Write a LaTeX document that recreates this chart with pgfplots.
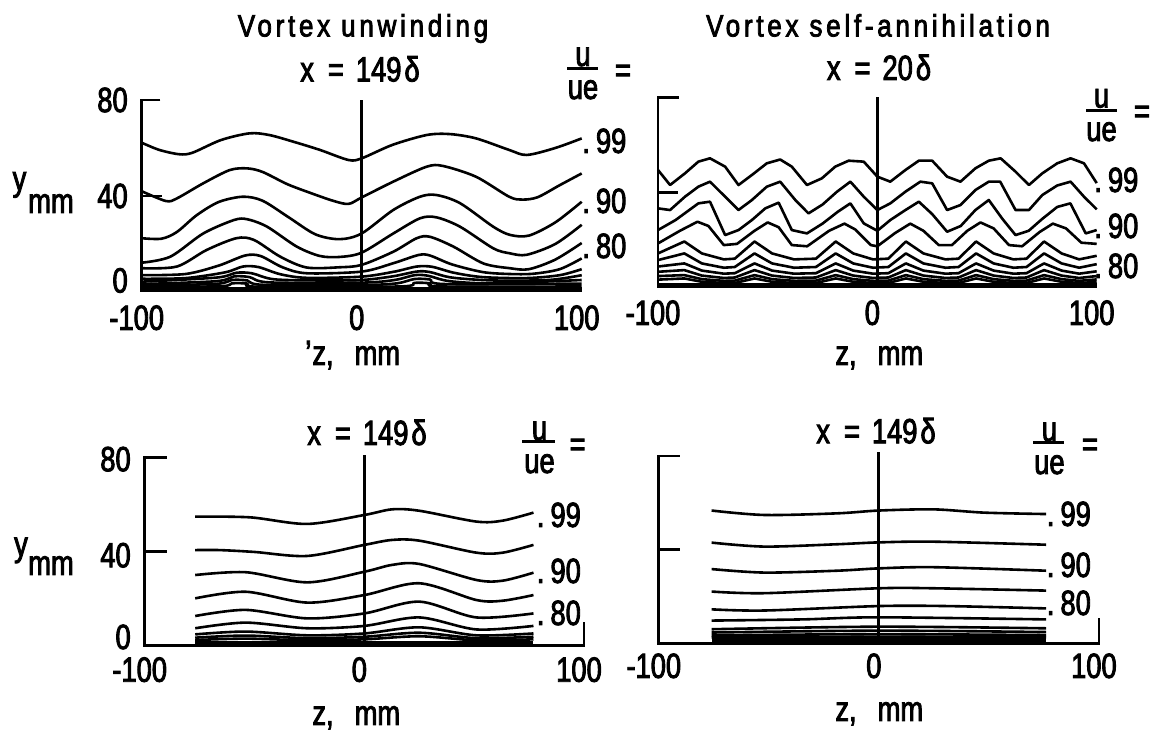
\documentclass[border=0pt]{standalone}
\usepackage{fontspec}
\setmainfont{Liberation Sans}
\newfontfamily\numfontfam{Liberation Sans}[FakeStretch=0.78,FakeBold=2.5]
\newfontfamily\titfontfam{Liberation Sans}[FakeStretch=0.84,LetterSpace=12,FakeBold=2.5]
\newcommand\valfont{\numfontfam\fontsize{17.5pt}{20pt}\selectfont}
\newcommand\titfont{\titfontfam\fontsize{15.5pt}{18pt}\selectfont}
\usepackage{pgfplots}
\pgfplotsset{compat=1.18}
\pgfplotsset{
  panel/.style={
    scale only axis, clip=false,
    xmin=-100, xmax=100, ymin=0, ymax=80,
    axis line style={draw=none},
    major tick length=0pt, tick style={draw=none},
    xtick={-100,0,100}, xticklabels={-100,0,100},
    xticklabel style={font=\valfont, anchor=north, inner sep=0pt, xshift=-2.5pt},
    yticklabel style={font=\valfont, anchor=east, inner sep=0pt, xshift=-6.8pt},
  },
  c/.style={black, line width=1.3pt, smooth, tension=0.5},
  zz/.style={black, line width=1.3pt, line join=round},
  ax/.style={black, line width=1.4pt, line join=miter},
  band/.style={black, line width=2.4pt},
}
\begin{document}
\begin{tikzpicture}
\useasboundingbox (0pt,0pt) rectangle (577.5pt,365.5pt);

% ---------------- Panel 1: Vortex unwinding, x = 149 delta
\begin{axis}[panel, at={(70.85pt,219.5pt)}, anchor=south west,
  width=220pt, height=96pt,
  ytick={4.8,40,80}, yticklabels={0,40,80},
  xticklabel style={yshift=-6.5pt}]
\addplot[ax] coordinates {(-91.5,80) (-100,80) (-100,0)};
\addplot[ax] coordinates {(-100,40) (-91,40)};
\addplot[ax] coordinates {(0,0) (0,80)};
\addplot[band] coordinates {(-100,1.0) (100,1.0)};
\addplot[c] coordinates {(-100,62.2) (-92,59.2) (-83,57.4) (-77,58) (-64,63.3) (-51,66.1) (-42,65.4) (-31,62.6) (-19,59.2) (-6,55) (0,55.7) (14,61.3) (29.5,65.4) (40,65.8) (52,64) (67,59.2) (75,57.1) (88,60) (100,64)};
\addplot[c] coordinates {(-100,42) (-89,37.9) (-84,39) (-72,45.3) (-60,50.8) (-52,51.5) (-45,50) (-34,45) (-24,41.5) (-13,38) (-6,36.7) (0,39.4) (14.4,46) (29.5,52.2) (37,52.5) (52,48) (67,39.7) (73,38.5) (80,39.5) (90,44.5) (100,49.4)};
\addplot[c] coordinates {(-100,22.4) (-91,22.2) (-84,25) (-75,32) (-65,37.5) (-54,39.7) (-45,38) (-33,31) (-21,24) (-10,22) (0,24.4) (14.4,34.2) (26.5,39.7) (34,40.4) (44.7,37) (59.8,27.2) (67.4,23.8) (76,23.5) (88,29) (100,37.6)};
\addplot[c] coordinates {(-100,12.2) (-87,14.7) (-72,24.4) (-58,30) (-52,30.3) (-43,27.2) (-29.5,18.9) (-19,15) (-10,14.6) (0,16.4) (14.4,24.4) (26.5,30.7) (34,31.1) (44.7,27.2) (59.8,18.2) (67.4,16.1) (75,15.5) (88,20) (100,28)};
\addplot[c] coordinates {(-100,9.9) (-84,10.6) (-70.5,17.5) (-57,22.4) (-49,21.7) (-37,14.7) (-25,10.2) (-10,10.3) (0,11.3) (14.4,16.8) (25,22.4) (31,23) (41.7,18.9) (55.3,11.9) (67.4,9.9) (76,9.5) (88,13.5) (100,20.4)};
\addplot[c] coordinates {(-100,7) (-80,7.5) (-65,11) (-53,15.2) (-46,15) (-36,10.3) (-25,7.8) (0,8.5) (14.4,12) (25.8,15.4) (31,15.2) (41,11.5) (55,8.3) (67,7.5) (78,7.6) (90,9.5) (100,14)};
\addplot[c] coordinates {(-100,5.5) (-80,5.8) (-62,8.2) (-54,10.6) (-47,10.4) (-37,7.4) (-25,5.9) (0,6.4) (15,8.5) (25,10.6) (32,10.5) (42,8) (55,6.2) (75,5.8) (90,7) (100,9.5)};
\addplot[c] coordinates {(-100,4.3) (-66,6) (-57,8) (-50,7.8) (-40,5.3) (-20,4.8) (0,5) (14,6.5) (25,8.5) (31,8.3) (41,6) (60,4.8) (85,5) (100,7)};
\addplot[c] coordinates {(-100,3.3) (-66,4.5) (-58,6.5) (-51,6.2) (-42,4) (0,3.9) (15,5) (24,7) (30,6.8) (40,4.5) (60,3.6) (100,5)};
\addplot[c] coordinates {(-100,2.6) (-66,3.4) (-59,5) (-52,4.8) (-45,3) (0,2.9) (16,3.6) (24,5.4) (31,5.2) (38,3.3) (100,3.5)};
\addplot[c] coordinates {(-100,2) (-64,2.4) (-59,3.6) (-52,3.5) (-47,2.2) (17,2.3) (24,3.8) (31,3.6) (36,2.3) (100,2.3)};
\end{axis}

% ---------------- Panel 2: Vortex self-annihilation, x = 20 delta
\begin{axis}[panel, at={(329pt,221.5pt)}, anchor=south west,
  width=219.35pt, height=95.35pt,
  ytick=\empty,
  xticklabel style={yshift=-6pt}]
\addplot[ax] coordinates {(-90.5,80) (-100,80) (-100,0)};
\addplot[ax] coordinates {(-100,40) (-91,40)};
\addplot[ax] coordinates {(0,0) (0,80)};
\addplot[band] coordinates {(-100,1.0) (100,1.0)};
\addplot[zz] coordinates {(-100,49.5) (-94.5,43.2) (-87.7,48.1) (-81.6,53) (-76.3,54.4) (-69.4,50.9) (-63.3,43.2) (-57.2,47.4) (-50.4,52.3) (-44.3,53.9) (-39,50.9) (-32.1,43.2) (-25.3,46) (-19.2,50.9) (-13.1,53.4) (-6.2,53) (0,46.7) (5.9,44.6) (12.8,49.5) (18.9,53.4) (25,53.4) (31.8,46.7) (37.9,44.6) (44.7,50.2) (50.8,53.4) (56.2,54.4) (63,48.8) (69.1,43.2) (75.2,48.1) (82,52.3) (88.1,54.4) (94.2,52.3) (100,44)};
\addplot[zz] coordinates {(-100,33.4) (-94.5,32.7) (-87.7,38.3) (-81.6,42.5) (-76.3,44.6) (-69.4,38.3) (-63.3,32.7) (-57.2,36.9) (-50.4,42.5) (-44.3,44.6) (-37.4,36.9) (-31.4,31.3) (-25,35) (-18.4,40.4) (-12.3,44.6) (-6.2,38.3) (0,32.7) (5.9,35.5) (12.8,40.4) (19.6,44.6) (25,43.9) (31.8,32.7) (37.9,34.8) (44.7,41.1) (50.8,44.6) (56,44.6) (63,32.7) (69.1,32.7) (75.2,39) (82,43) (88.1,44.6) (94.2,38.3) (100,33)};
\addplot[zz] coordinates {(-100,24.3) (-92,28.5) (-81.6,35.5) (-76.3,36.2) (-69.4,22.2) (-63.3,24.3) (-57.2,28.5) (-51.1,33.4) (-45,35.8) (-39,24.3) (-32.1,22.9) (-25,27) (-18,32) (-12.3,35.5) (-6.2,27.1) (0,24) (5.9,28.5) (12.8,32.7) (18.9,36.2) (25,31) (31.8,23.6) (38,26) (44.7,32.7) (50.8,36.9) (57,29) (63,22.2) (69,24) (75.2,29) (82,34) (88,35.5) (95,22.9) (100,24.3)};
\addplot[zz] coordinates {(-100,18.7) (-90,24) (-82,27.8) (-77,26) (-70,18) (-64,18.5) (-56,24) (-50,27.5) (-45,25.5) (-39,18) (-32,17.5) (-22,24) (-15,27) (-10,24.5) (-3,18) (0,17.5) (8,23) (15,27) (21,24) (28,18) (34,18) (41,24) (47,27.5) (53,25) (60,18) (66,17.5) (74,23.5) (80,27) (86,25) (93,19) (100,18.5)};
\addplot[zz] coordinates {(-100,14.5) (-88,19.5) (-80,14.5) (-70,12) (-65,12.3) (-56,19.5) (-48,14.5) (-38,12) (-28,12.3) (-19,19.5) (-11,14.5) (-2,12) (5,12.3) (13,19.5) (21,14.5) (31,12) (37,12.3) (45,19.5) (53,14.5) (62,12) (68,12.3) (76,19.5) (84,14.5) (92,12) (100,13.5)};
\addplot[zz] coordinates {(-100,11.7) (-88,14.5) (-80,10.3) (-70,8.5) (-65,8.8) (-56,14.5) (-48,10.3) (-38,8.5) (-28,8.8) (-19,14.5) (-11,10.3) (-2,8.5) (5,8.8) (13,14.5) (21,10.3) (31,8.5) (37,8.8) (45,14.5) (53,10.3) (62,8.5) (68,8.8) (76,14.5) (84,10.3) (92,8.5) (100,10)};
\addplot[zz] coordinates {(-100,9) (-88,10.3) (-80,7.3) (-70,6) (-65,6.2) (-56,10.3) (-48,7.3) (-38,6) (-28,6.2) (-19,10.3) (-11,7.3) (-2,6) (5,6.2) (13,10.3) (21,7.3) (31,6) (37,6.2) (45,10.3) (53,7.3) (62,6) (68,6.2) (76,10.3) (84,7.3) (92,6) (100,7)};
\addplot[zz] coordinates {(-100,6.8) (-88,7.5) (-80,5.2) (-70,4.2) (-65,4.4) (-56,7.5) (-48,5.2) (-38,4.2) (-28,4.4) (-19,7.5) (-11,5.2) (-2,4.2) (5,4.4) (13,7.5) (21,5.2) (31,4.2) (37,4.4) (45,7.5) (53,5.2) (62,4.2) (68,4.4) (76,7.5) (84,5.2) (92,4.2) (100,5)};
\addplot[zz] coordinates {(-100,5) (-88,5.4) (-80,3.7) (-70,3) (-65,3.1) (-56,5.4) (-48,3.7) (-38,3) (-28,3.1) (-19,5.4) (-11,3.7) (-2,3) (5,3.1) (13,5.4) (21,3.7) (31,3) (37,3.1) (45,5.4) (53,3.7) (62,3) (68,3.1) (76,5.4) (84,3.7) (92,3) (100,3.6)};
\addplot[zz] coordinates {(-100,3.5) (-88,4) (-80,2.6) (-70,2.1) (-65,2.1) (-56,4) (-48,2.6) (-38,2.1) (-28,2.1) (-19,4) (-11,2.6) (-2,2.1) (5,2.1) (13,4) (21,2.6) (31,2.1) (37,2.1) (45,4) (53,2.6) (62,2.1) (68,2.1) (76,4) (84,2.6) (92,2.1) (100,2.5)};
\end{axis}

% ---------------- Panel 3: x = 149 delta (lower left)
\begin{axis}[panel, at={(72.35pt,42.65pt)}, anchor=south west,
  width=219.65pt, height=94.2pt,
  ytick={3.7,38.4,79.2}, yticklabels={0,40,80},
  xticklabel style={yshift=-5.6pt}]
\addplot[ax] coordinates {(-90,80) (-100,80) (-100,0) (100,0) (100,10.2)};
\addplot[ax] coordinates {(-100,40) (-90,40)};
\addplot[ax] coordinates {(0,0) (0,81)};
\addplot[band] coordinates {(-77,1.1) (77,1.1)};
\addplot[c] coordinates {(-77,54.8) (-52,54.5) (-26,51.7) (0,55.5) (12.6,57.9) (25,57.3) (51,52.7) (63,53.1) (77,56.5)};
\addplot[c] coordinates {(-77,40.6) (-66,40.6) (-50,39.8) (-26,38.1) (0,42.8) (12.6,44.9) (25,44.6) (51,39.5) (63,39.5) (77,42.8)};
\addplot[c] coordinates {(-77,30) (-54,31.2) (-26,26.9) (0,31.4) (12.6,34.3) (25,34.7) (51,27.9) (63,27.6) (77,31)};
\addplot[c] coordinates {(-77,20.1) (-54,22.9) (-26,18.3) (0,21.5) (25,26.5) (51,19.4) (63,19.1) (77,21.5)};
\addplot[c] coordinates {(-77,12.6) (-54,15.2) (-26,11.6) (0,13.7) (25,18.7) (51,12) (77,13.7)};
\addplot[c] coordinates {(-77,7.4) (-54,9.8) (-26,7.4) (0,8.4) (25,12) (51,6.9) (77,8.4)};
\addplot[c] coordinates {(-77,4.8) (-54,6) (-26,4.4) (0,5.2) (25,7.8) (51,4.4) (77,5.2)};
\addplot[c] coordinates {(-77,3.4) (-54,4.3) (-26,3.2) (0,3.8) (25,5.5) (51,3.2) (77,3.8)};
\addplot[c] coordinates {(-77,2.4) (-54,3) (-26,2.3) (0,2.7) (25,4) (51,2.3) (77,2.7)};
\end{axis}

% ---------------- Panel 4: x = 149 delta (lower right)
\begin{axis}[panel, at={(329.4pt,43.85pt)}, anchor=south west,
  width=220.05pt, height=93.65pt,
  ytick=\empty,
  xticklabel style={yshift=-4.9pt}]
\addplot[ax] coordinates {(-90.5,80) (-100,80) (-100,0) (100,0) (100,10.7)};
\addplot[ax] coordinates {(-100,40) (-90.5,40)};
\addplot[ax] coordinates {(0,0) (0,81.5)};
\addplot[band] coordinates {(-76,1.2) (76,1.2)};
\addplot[c] coordinates {(-76,56.7) (-52,54.8) (-19,55.5) (0,56.7) (25,57.2) (48,55.8) (76,55.2)};
\addplot[c] coordinates {(-76,43) (-52,41.3) (-19,42.3) (0,43.1) (25,43.4) (76,42.1)};
\addplot[c] coordinates {(-76,31.7) (-52,30.2) (-19,31) (0,32) (25,32.5) (76,31)};
\addplot[c] coordinates {(-76,22.1) (-52,21.4) (0,23.5) (25,23.5) (76,22.5)};
\addplot[c] coordinates {(-76,14.5) (-52,14) (0,15.9) (31,15.9) (76,14.9)};
\addplot[c] coordinates {(-76,9.7) (-35,10.2) (0,11.1) (76,10.2)};
\addplot[c] coordinates {(-76,6) (0,7.1) (76,6.4)};
\addplot[c] coordinates {(-76,4.6) (0,5.4) (76,4.8)};
\addplot[c] coordinates {(-76,3.4) (0,3.9) (76,3.5)};
\addplot[c] coordinates {(-76,2.5) (0,2.8) (76,2.6)};
\end{axis}

% ---------------- texts (pixel coordinates of the reference)
\begin{scope}[x=0.5pt,y=-0.5pt,shift={(0pt,365.5pt)}]
\tikzset{every node/.style={inner sep=0pt}}
% panel 1
\node[font=\titfont,anchor=base] at (363,36.5) {Vortex unwinding};
\node[font=\valfont,anchor=base] at (360,81.5) {x\hspace{7pt}=\hspace{6pt}149\hspace{1.5pt}δ};
\node[font=\valfont,anchor=base] at (19.5,190.5) {y};
\node[font=\valfont,anchor=base] at (51,213) {mm};
\node[font=\valfont,anchor=base west] at (312,365) {\llap{’\hspace{0.5pt}}z,\hspace{10.5pt}mm};
\node[font=\valfont,anchor=base] at (583,66) {u};
\draw[line width=1.3pt] (567,68.3) -- (598,68.3);
\node[font=\valfont,anchor=base] at (583,99) {ue};
\node[font=\valfont,anchor=base] at (623,82) {=};
\node[font=\valfont,anchor=base west] at (582,153) {.\kern3pt 99};
\node[font=\valfont,anchor=base west] at (582,213) {.\kern3pt 90};
\node[font=\valfont,anchor=base west] at (582,258) {.\kern3pt 80};
% panel 2
\node[font=\titfont,anchor=base] at (878,36.5) {Vortex self-annihilation};
\node[font=\valfont,anchor=base] at (879,80) {x\hspace{7pt}=\hspace{6pt}20\hspace{1.5pt}δ};
\node[font=\valfont,anchor=base west] at (835,365) {z,\hspace{10.5pt}mm};
\node[font=\valfont,anchor=base] at (1101.5,107.5) {u};
\draw[line width=1.3pt] (1086,110.7) -- (1117,110.7);
\node[font=\valfont,anchor=base] at (1101.5,141) {ue};
\node[font=\valfont,anchor=base] at (1142,123) {=};
\node[font=\valfont,anchor=base west] at (1094,192) {.\kern3pt 99};
\node[font=\valfont,anchor=base west] at (1094,238) {.\kern3pt 90};
\node[font=\valfont,anchor=base west] at (1094,278) {.\kern3pt 80};
% panel 3
\node[font=\valfont,anchor=base] at (367,445) {x\hspace{7pt}=\hspace{6pt}149\hspace{1.5pt}δ};
\node[font=\valfont,anchor=base] at (21,556) {y};
\node[font=\valfont,anchor=base] at (51,575) {mm};
\node[font=\valfont,anchor=base west] at (312,725) {z,\hspace{10.5pt}mm};
\node[font=\valfont,anchor=base] at (539.5,440) {u};
\draw[line width=1.3pt] (522,441.5) -- (555,441.5);
\node[font=\valfont,anchor=base] at (539.5,473) {ue};
\node[font=\valfont,anchor=base] at (577.6,456) {=};
\node[font=\valfont,anchor=base west] at (536.5,527) {.\kern3pt 99};
\node[font=\valfont,anchor=base west] at (536.5,583) {.\kern3pt 90};
\node[font=\valfont,anchor=base west] at (536.5,625) {.\kern3pt 80};
% panel 4
\node[font=\valfont,anchor=base] at (876,443.3) {x\hspace{7pt}=\hspace{6pt}149\hspace{1.5pt}δ};
\node[font=\valfont,anchor=base west] at (835,721) {z,\hspace{10.5pt}mm};
\node[font=\valfont,anchor=base] at (1049.4,441) {u};
\draw[line width=1.3pt] (1033,442.7) -- (1064,442.7);
\node[font=\valfont,anchor=base] at (1049.4,474) {ue};
\node[font=\valfont,anchor=base] at (1090,456) {=};
\node[font=\valfont,anchor=base west] at (1046.5,526) {.\kern3pt 99};
\node[font=\valfont,anchor=base west] at (1046.5,577) {.\kern3pt 90};
\node[font=\valfont,anchor=base west] at (1046.5,615) {.\kern3pt 80};
\end{scope}
\end{tikzpicture}
\end{document}
